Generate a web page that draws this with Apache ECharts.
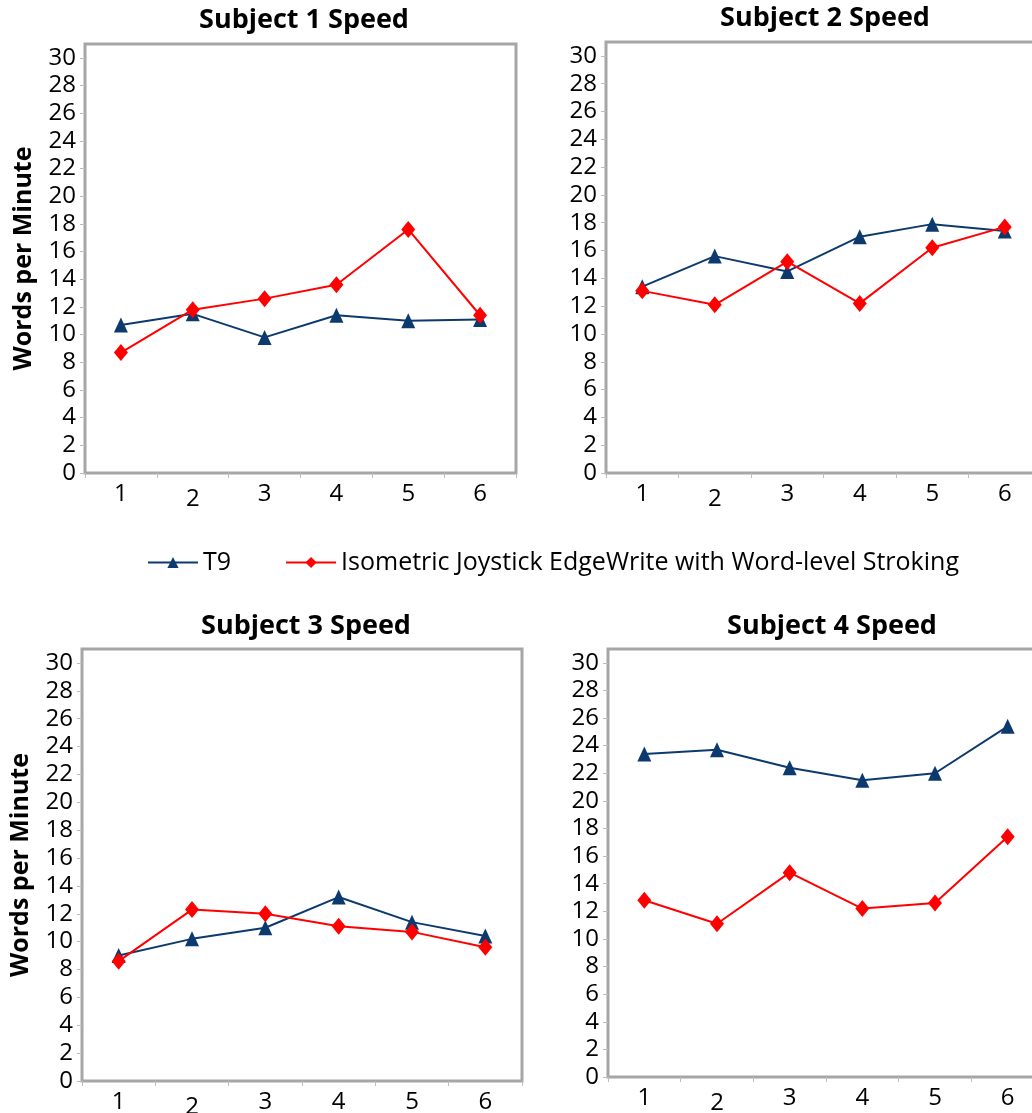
<!DOCTYPE html>
<html>
<head>
<meta charset="utf-8">
<script src="https://cdn.jsdelivr.net/npm/echarts@6/dist/echarts.min.js"></script>
<style>
  html, body { margin: 0; padding: 0; background: #fff; }
  #chart { width: 1032px; height: 1113px; }
</style>
</head>
<body>
<div id="chart"></div>
<script>
// ---- Data ----
const categories = ['1', '2', '3', '4', '5', '6'];
const yTicks = [0, 2, 4, 6, 8, 10, 12, 14, 16, 18, 20, 22, 24, 26, 28, 30];
const seriesNames = ['T9', 'Isometric Joystick EdgeWrite with Word-level Stroking'];
const chartTitles = ['Subject 1 Speed', 'Subject 2 Speed', 'Subject 3 Speed', 'Subject 4 Speed'];
const yAxisTitle = 'Words per Minute';

const s1T9  = [10.7, 11.5, 9.8, 11.4, 11.0, 11.1];
const s1Iso = [8.7, 11.8, 12.6, 13.6, 17.6, 11.4];
const s2T9  = [13.4, 15.6, 14.5, 17.0, 17.9, 17.4];
const s2Iso = [13.1, 12.1, 15.2, 12.2, 16.2, 17.7];
const s3T9  = [9.0, 10.2, 11.0, 13.2, 11.4, 10.4];
const s3Iso = [8.6, 12.3, 12.0, 11.1, 10.7, 9.6];
const s4T9  = [23.4, 23.7, 22.4, 21.5, 22.0, 25.4];
const s4Iso = [12.8, 11.1, 14.8, 12.2, 12.6, 17.4];

// ---- Layout / style ----
const FONT = '"Open Sans", "Noto Sans", sans-serif';
const grids = [
  { left: 85,  top: 44,  width: 431, height: 429 },
  { left: 606, top: 42,  width: 435, height: 431 },
  { left: 82,  top: 649, width: 440, height: 432 },
  { left: 608, top: 649, width: 436, height: 428 }
];
const titlePos = [[304, 20], [825, 18], [306, 626], [832, 626]];
const data = [[s1T9, s1Iso], [s2T9, s2Iso], [s3T9, s3Iso], [s4T9, s4Iso]];
const NAVY = '#0d3a6e';
const RED = '#ff0000';

const option = {
  backgroundColor: '#ffffff',
  animation: false,
  grid: grids.map(g => Object.assign({
    show: true, borderColor: '#a6a6a6', borderWidth: 3, backgroundColor: '#fff',
    containLabel: false, outerBoundsMode: 'none'
  }, g)),
  xAxis: grids.map((g, i) => ({
    type: 'category',
    gridIndex: i,
    data: categories,
    boundaryGap: true,
    axisLine: { show: false },
    axisTick: { show: true, length: 5, interval: 0, lineStyle: { color: '#bdbdbd', width: 1 } },
    axisLabel: {
      interval: 0,
      hideOverlap: false,
      margin: 9,
      fontSize: 24, fontFamily: FONT, color: '#000',
      formatter: v => v === '2' ? '{d|' + v + '}' : v,
      rich: { d: { fontSize: 24, fontFamily: FONT, color: '#000', padding: [5, 0, 0, 0] } }
    },
    splitLine: { show: false }
  })),
  yAxis: grids.map((g, i) => ({
    type: 'value',
    gridIndex: i,
    min: 0, max: 31, interval: 2,
    name: (i === 0 || i === 2) ? yAxisTitle : '',
    nameLocation: 'middle',
    nameGap: 49,
    nameMoveOverlap: false,
    nameTextStyle: { fontSize: 25, fontWeight: 'bold', fontFamily: FONT, color: '#000' },
    axisLine: { show: false },
    axisTick: { show: true, length: 5, customValues: yTicks, lineStyle: { color: '#bdbdbd', width: 1 } },
    axisLabel: { margin: 9, fontSize: 24, fontFamily: FONT, color: '#000', customValues: yTicks },
    splitLine: { show: false }
  })),
  legend: {
    left: 142, top: 545,
    itemWidth: 50, itemHeight: 14, itemGap: 54,
    textStyle: { fontSize: 25, fontFamily: FONT, color: '#000' },
    data: seriesNames
  },
  graphic: chartTitles.map((t, i) => ({
    type: 'text',
    x: titlePos[i][0], y: titlePos[i][1],
    style: {
      text: t, align: 'center', verticalAlign: 'middle',
      font: 'bold 27px ' + FONT, fill: '#000'
    }
  })),
  series: []
};

data.forEach((pair, i) => {
  option.series.push({
    name: seriesNames[0], type: 'line', xAxisIndex: i, yAxisIndex: i,
    data: pair[0], symbol: 'triangle', symbolSize: [14, 15],
    lineStyle: { color: NAVY, width: 2 }, itemStyle: { color: NAVY },
    z: 3
  });
  option.series.push({
    name: seriesNames[1], type: 'line', xAxisIndex: i, yAxisIndex: i,
    data: pair[1], symbol: 'diamond', symbolSize: [14, 17],
    lineStyle: { color: RED, width: 2 }, itemStyle: { color: RED },
    z: 4
  });
});

const chart = echarts.init(document.getElementById('chart'), null, { renderer: 'canvas' });
chart.setOption(option);
</script>
</body>
</html>
